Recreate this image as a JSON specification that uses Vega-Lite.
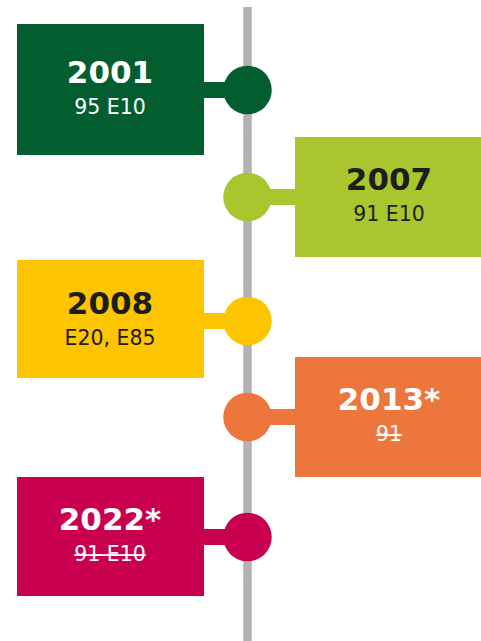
{
  "$schema": "https://vega.github.io/schema/vega-lite/v6.json",
  "width": 481,
  "height": 641,
  "padding": 0,
  "autosize": {"type": "none"},
  "background": "#ffffff",
  "config": {"view": {"stroke": null}},
  "data": {
    "values": [
      {"year": 2001, "label": "2001", "fuel": "95 E10", "side": "left"},
      {"year": 2007, "label": "2007", "fuel": "91 E10", "side": "right"},
      {"year": 2008, "label": "2008", "fuel": "E20, E85", "side": "left"},
      {"year": 2013, "label": "2013*", "fuel": "9\u03361\u0336", "side": "right"},
      {"year": 2022, "label": "2022*", "fuel": "9\u03361\u0336 \u0336E\u03361\u03360\u0336", "side": "left"}
    ]
  },
  "layer": [
    {
      "mark": {"type": "rule", "color": "#b3b3b4", "strokeWidth": 7.5, "strokeCap": "butt"},
      "encoding": {
        "x": {"datum": "center", "type": "nominal", "scale": {"type": "point", "domain": ["left", "center", "right"], "range": [108, 387], "padding": 0}, "axis": null},
        "y": {"datum": 1996.35, "type": "quantitative", "scale": {"domain": [2001, 2007, 2008, 2013, 2022], "range": [90, 197, 321, 417, 537], "nice": false, "zero": false}, "axis": null},
        "y2": {"datum": 2032}
      }
    },
    {
      "mark": {"type": "rule", "strokeWidth": 16},
      "encoding": {
        "x": {"field": "side", "type": "nominal", "scale": {"type": "point", "domain": ["left", "center", "right"], "range": [108, 387], "padding": 0}, "axis": null},
        "x2": {"datum": "center"},
        "y": {"field": "year", "type": "quantitative", "scale": {"domain": [2001, 2007, 2008, 2013, 2022], "range": [90, 197, 321, 417, 537], "nice": false, "zero": false}, "axis": null},
        "color": {"field": "year", "type": "nominal", "scale": {"domain": [2001, 2007, 2008, 2013, 2022], "range": ["#025d2f", "#a9c62f", "#fdc500", "#ec763b", "#c9004f"]}, "legend": null}
      }
    },
    {
      "mark": {"type": "point", "filled": true, "opacity": 1, "size": 34969, "strokeWidth": 0},
      "encoding": {
        "x": {"field": "side", "type": "nominal", "scale": {"type": "point", "domain": ["left", "center", "right"], "range": [108, 387], "padding": 0}, "axis": null},
        "y": {"field": "year", "type": "quantitative", "scale": {"domain": [2001, 2007, 2008, 2013, 2022], "range": [90, 197, 321, 417, 537], "nice": false, "zero": false}, "axis": null},
        "color": {"field": "year", "type": "nominal", "scale": {"domain": [2001, 2007, 2008, 2013, 2022], "range": ["#025d2f", "#a9c62f", "#fdc500", "#ec763b", "#c9004f"]}, "legend": null},
        "shape": {"field": "year", "type": "nominal", "scale": {"domain": [2001, 2007, 2008, 2013, 2022], "range": [
          "M-0.973,-0.706L1.027,-0.706L1.027,0.695L-0.973,0.695Z",
          "M-0.984,-0.642L1.016,-0.642L1.016,0.642L-0.984,0.642Z",
          "M-0.973,-0.652L1.027,-0.652L1.027,0.610L-0.973,0.610Z",
          "M-0.984,-0.642L1.016,-0.642L1.016,0.642L-0.984,0.642Z",
          "M-0.973,-0.642L1.027,-0.642L1.027,0.631L-0.973,0.631Z"
        ]}, "legend": null}
      }
    },
    {
      "mark": {"type": "circle", "opacity": 1, "size": 2352},
      "encoding": {
        "x": {"datum": "center", "type": "nominal", "scale": {"type": "point", "domain": ["left", "center", "right"], "range": [108, 387], "padding": 0}, "axis": null},
        "y": {"field": "year", "type": "quantitative", "scale": {"domain": [2001, 2007, 2008, 2013, 2022], "range": [90, 197, 321, 417, 537], "nice": false, "zero": false}, "axis": null},
        "color": {"field": "year", "type": "nominal", "scale": {"domain": [2001, 2007, 2008, 2013, 2022], "range": ["#025d2f", "#a9c62f", "#fdc500", "#ec763b", "#c9004f"]}, "legend": null}
      }
    },
    {
      "mark": {"type": "text", "font": "DejaVu Sans", "fontWeight": "bold", "fontSize": 31, "baseline": "alphabetic", "align": "center", "dy": -7, "dx": 2},
      "encoding": {
        "x": {"field": "side", "type": "nominal", "scale": {"type": "point", "domain": ["left", "center", "right"], "range": [108, 387], "padding": 0}, "axis": null},
        "y": {"field": "year", "type": "quantitative", "scale": {"domain": [2001, 2007, 2008, 2013, 2022], "range": [90, 197, 321, 417, 537], "nice": false, "zero": false}, "axis": null},
        "text": {"field": "label"},
        "color": {"condition": {"test": "datum.year === 2007 || datum.year === 2008", "value": "#1d1d1b"}, "value": "#ffffff"}
      }
    },
    {
      "mark": {"type": "text", "font": "DejaVu Sans", "fontSize": 20.5, "baseline": "alphabetic", "align": "center", "dy": 24, "dx": 2},
      "encoding": {
        "x": {"field": "side", "type": "nominal", "scale": {"type": "point", "domain": ["left", "center", "right"], "range": [108, 387], "padding": 0}, "axis": null},
        "y": {"field": "year", "type": "quantitative", "scale": {"domain": [2001, 2007, 2008, 2013, 2022], "range": [90, 197, 321, 417, 537], "nice": false, "zero": false}, "axis": null},
        "text": {"field": "fuel"},
        "color": {"condition": {"test": "datum.year === 2007 || datum.year === 2008", "value": "#1d1d1b"}, "value": "#ffffff"}
      }
    }
  ]
}
